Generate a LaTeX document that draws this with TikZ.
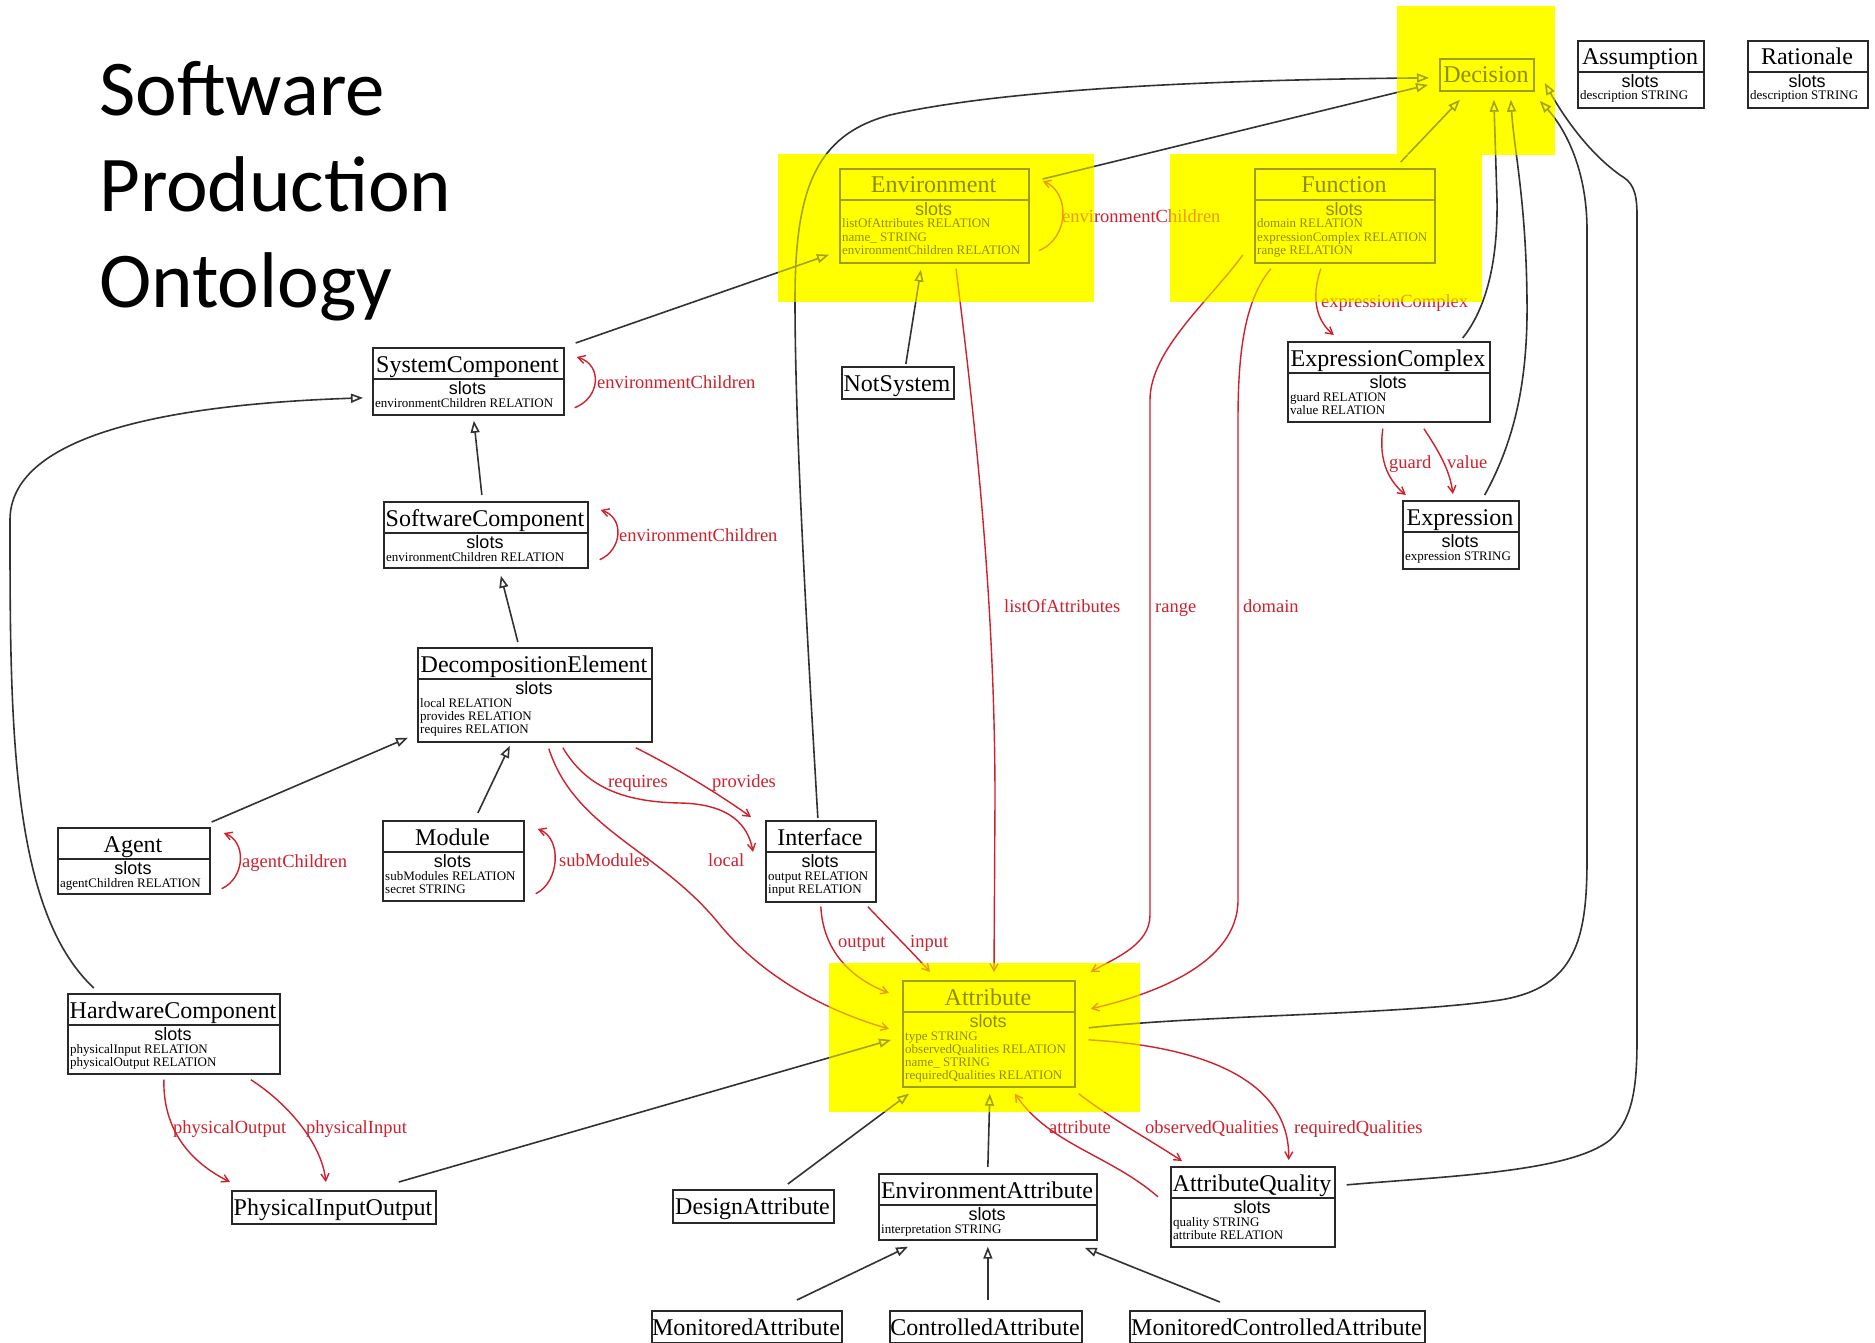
\documentclass[tikz,border=0pt]{standalone}
\usepackage{fontspec}
\setmainfont{Liberation Serif}
\newfontfamily\slotsfont{Liberation Sans}
\newfontfamily\ttlfont{Carlito}
\usetikzlibrary{arrows.meta,calc}
\definecolor{relc}{RGB}{208,32,44}
\definecolor{linec}{RGB}{50,50,50}
\definecolor{boxc}{RGB}{40,40,40}
\definecolor{hly}{RGB}{255,255,0}
\tikzset{
  clsbox/.style={draw=boxc, line width=1.7pt, inner sep=0pt},
  clssep/.style={draw=boxc, line width=1.7pt},
  clstitle/.style={inner sep=0pt, font=\fontsize{24}{26}\selectfont},
  clsslots/.style={inner sep=0pt, font=\slotsfont\fontsize{18}{20}\selectfont},
  clsattr/.style={inner sep=0pt, font=\fontsize{13}{14}\selectfont},
  inh/.style={draw=linec, line width=1.6pt, -{Triangle[open, length=12pt, width=9pt]}},
  rel/.style={draw=relc, line width=1.4pt, -{Straight Barb[length=7pt, width=8pt]}},
  rlab/.style={text=relc, font=\fontsize{18.5}{20}\selectfont, inner sep=0pt, anchor=base west},
  ttl/.style={inner sep=0pt, font=\ttlfont\fontsize{79}{90}\selectfont, anchor=base west},
  hlbase/.style={fill=hly},
  hltop/.style={fill=hly, fill opacity=0.55},
}
\newcommand\umlclass[7]{%
  \node[clsbox, minimum width={#4-#2}, minimum height={#5-#3}, anchor=north west] (#1) at (#2,#3) {};
  \node[clstitle, anchor=base] (#1-t) at ({(#2+#4)/2},{#3+25}) {#6};
  \draw[clssep] ($(#1.north west)+(0,32)$) -- ($(#1.north east)+(0,32)$);
  \node[clsslots, anchor=base] (#1-s) at ({(#2+#4)/2},{#3+32+15.5}) {slots};
  \foreach \cln [count=\ci] in {#7} {\node[clsattr, anchor=base west] (#1-l\ci) at ({#2+3},{#3+32+28+13.2*(\ci-1)}) {\cln};}
}
\newcommand\umlsingle[6]{%
  \node[clsbox, minimum width={#4-#2}, minimum height={#5-#3}, anchor=north west] (#1) at (#2,#3) {};
  \node[clstitle, anchor=base] (#1-t) at ({(#2+#4)/2},{#3+25}) {#6};
}
\begin{document}
\begin{tikzpicture}[x=1pt,y=-1pt]
\useasboundingbox (0,0) rectangle (1875,1343);
\fill[white] (0,0) rectangle (1875,1343);
% yellow highlight base
\fill[hlbase] (1397,6) rectangle (1555,155);
\fill[hlbase] (778,154) rectangle (1094,302);
\fill[hlbase] (1170,154) rectangle (1482,302);
\fill[hlbase] (829,963) rectangle (1140,1112);

% title
\node[ttl] (t1) at (99,116) {Software};
\node[ttl] (t2) at (99,212) {Production};
\node[ttl] (t3) at (99,307) {Ontology};

% classes
\umlsingle{dec}{1439}{58}{1533}{90}{Decision}
\umlclass{asm}{1577}{40}{1703}{107}{Assumption}{description STRING}
\umlclass{rat}{1747}{40}{1867}{107}{Rationale}{description STRING}
\umlclass{env}{839}{168}{1028}{262}{Environment}{listOfAttributes RELATION,name\_ STRING,environmentChildren RELATION}
\umlclass{fn}{1254}{168}{1434}{262}{Function}{domain RELATION,expressionComplex RELATION,range RELATION}
\umlclass{sc}{372}{347}{563}{414}{SystemComponent}{environmentChildren RELATION}
\umlsingle{ns}{841}{366}{953}{398}{NotSystem}
\umlclass{ec}{1287}{341}{1489}{421}{ExpressionComplex}{guard RELATION,value RELATION}
\umlclass{swc}{383}{501}{587}{567}{SoftwareComponent}{environmentChildren RELATION}
\umlclass{ex}{1402}{500}{1518}{568}{Expression}{expression STRING}
\umlclass{de}{417}{647}{651}{741}{DecompositionElement}{local RELATION,provides RELATION,requires RELATION}
\umlclass{agent}{57}{827}{209}{893}{Agent}{agentChildren RELATION}
\umlclass{mod}{382}{820}{523}{900}{Module}{subModules RELATION,secret STRING}
\umlclass{intf}{765}{820}{875}{901}{Interface}{output RELATION,input RELATION}
\umlclass{hw}{67}{993}{279}{1073}{HardwareComponent}{physicalInput RELATION,physicalOutput RELATION}
\umlclass{attr}{902}{980}{1074}{1086}{Attribute}{type STRING,observedQualities RELATION,name\_ STRING,requiredQualities RELATION}
\umlsingle{pio}{231}{1190}{435}{1223}{PhysicalInputOutput}
\umlsingle{da}{672}{1189}{833}{1222}{DesignAttribute}
\umlclass{ea}{878}{1173}{1096}{1239}{EnvironmentAttribute}{interpretation STRING}
\umlclass{aq}{1170}{1166}{1334}{1246}{AttributeQuality}{quality STRING,attribute RELATION}
\umlsingle{ma}{651}{1310}{841}{1342}{MonitoredAttribute}
\umlsingle{ca}{889}{1310}{1081}{1342}{ControlledAttribute}
\umlsingle{mca}{1129}{1310}{1424}{1342}{MonitoredControlledAttribute}

% inheritance connectors
\draw[inh] ($(swc.north)+(-4,-6)$) -- ($(sc.south)+(5.5,5)$);
\draw[inh] ($(de.north)+(-17,-5)$) -- ($(swc.south)+(15,7)$);
\draw[inh] ($(mod.north)+(24.5,-7)$) -- ($(de.south)+(-25,3)$);
\draw[inh] ($(agent.north east)+(1,-5)$) -- ($(de.south west)+(-9,-5)$);
\draw[inh] ($(hw.north)+(-80,-5)$) .. controls (10,910) and (10,720) .. (10,520) .. controls (10,440) and (150,405) .. ($(sc.west)+(-9,16.5)$);
\draw[inh] ($(sc.north east)+(11,-4)$) -- ($(env.south west)+(-10,-9)$);
\draw[inh] ($(ns.north)+(8,-2)$) -- ($(env.south)+(-13.5,6)$);
\draw[inh] ($(env.north east)+(13,11)$) -- ($(dec.west)+(-11,10)$);
\draw[inh] ($(intf.north)+(-3,-2)$) .. controls (805,600) and (795,420) .. (795,300) .. controls (795,190) and (815,135) .. (890,115) .. controls (1000,90) and (1200,80) .. ($(dec.west)+(-10,3)$);
\draw[inh] ($(fn.north east)+(-35,-6)$) -- ($(dec.south west)+(21,8)$);
\draw[inh] ($(ec.north east)+(-28,-3)$) .. controls (1485,310) and (1498,265) .. (1497,200) -- ($(dec.south)+(7,8)$);
\draw[inh] ($(ex.north east)+(-35,-5)$) .. controls (1515,440) and (1528,380) .. (1527,300) .. controls (1526,200) and (1514,150) .. ($(dec.south)+(24,8)$);
\draw[inh] ($(attr.east)+(13,-6)$) .. controls (1200,1015) and (1400,1015) .. (1500,1000) .. controls (1575,988) and (1587,940) .. (1587,860) -- (1587,230) .. controls (1587,165) and (1562,125) .. ($(dec.east)+(5,26)$);
\draw[inh] ($(aq.east)+(11,-22)$) .. controls (1450,1176) and (1570,1172) .. (1610,1140) .. controls (1632,1120) and (1637,1090) .. (1637,1040) -- (1637,215) .. controls (1637,190) and (1632,182) .. (1620,175) .. controls (1585,150) and (1560,110) .. ($(dec.east)+(10,8)$);
\draw[inh] ($(ea.north)+(0,-6)$) -- ($(attr.south)+(1,6)$);
\draw[inh] ($(da.north)+(34.5,-5)$) -- ($(attr.south west)+(7,6)$);
\draw[inh] ($(pio.north)+(65,-8)$) -- ($(attr.west)+(-11,6)$);
\draw[inh] ($(ma.north)+(50,-10)$) -- ($(ea.south west)+(30,6)$);
\draw[inh] ($(ca.north)+(2,-10)$) -- ($(ea.south)+(0,6)$);
\draw[inh] ($(mca.north)+(-57.5,-8)$) -- ($(ea.south east)+(-13,7)$);

% relation connectors
\draw[rel] ($(sc.south east)+(10,-8)$) .. controls (600,398) and (603,365) .. ($(sc.north east)+(12,10)$);
\node[rlab] (l-sc) at (597,388.5) {environmentChildren};
\draw[rel] ($(swc.south east)+(11,-9)$) .. controls (622,550) and (625,518) .. ($(swc.north east)+(12,9)$);
\node[rlab] (l-swc) at (619,541.5) {environmentChildren};
\draw[rel] ($(env.south east)+(9,-13)$) .. controls (1070,238) and (1070,192) .. ($(env.north east)+(13,13)$);
\node[rlab] (l-env) at (1062,222.5) {environmentChildren};
\draw[rel] ($(agent.south east)+(11,-6)$) .. controls (245,878) and (247,842) .. ($(agent.north east)+(13,6)$);
\node[rlab] (l-ag) at (242,867.5) {agentChildren};
\draw[rel] ($(mod.south east)+(11,-8)$) .. controls (560,882) and (562,838) .. ($(mod.north east)+(13,9)$);
\node[rlab] (l-mod) at (559,866.5) {subModules};

\draw[rel] ($(env.south west)+(117,5)$) .. controls (975,420) and (995,600) .. (995,800) -- ($(attr.north west)+(92,-8)$);
\node[rlab] (l-loa) at (1004,612.5) {listOfAttributes};
\draw[rel] ($(fn.south west)+(-11,-9)$) .. controls (1210,300) and (1150,350) .. (1150,400) -- (1150,915) .. controls (1150,945) and (1115,958) .. ($(attr.north east)+(15,-8)$);
\node[rlab] (l-rng) at (1155,612.5) {range};
\draw[rel] ($(fn.south)+(-74,5)$) .. controls (1245,300) and (1238,350) .. (1238,420) -- (1238,900) .. controls (1238,965) and (1150,995) .. ($(attr.east)+(15,-25)$);
\node[rlab] (l-dom) at (1243,612.5) {domain};
\draw[rel] ($(fn.south)+(-24,5)$) .. controls (1310,300) and (1318,322) .. ($(ec.north)+(-55,-6)$);
\node[rlab] (l-exc) at (1321,307.5) {expressionComplex};
\draw[rel] ($(ec.south)+(-6,6)$) .. controls (1378,462) and (1390,482) .. ($(ex.north)+(-55,-5)$);
\node[rlab] (l-grd) at (1389,468.5) {guard};
\draw[rel] ($(ec.south)+(35,6)$) .. controls (1438,450) and (1450,470) .. ($(ex.north)+(-8,-6)$);
\node[rlab] (l-val) at (1447,468.5) {value};

\draw[rel] ($(intf.south)+(0,4)$) .. controls (823,950) and (850,978) .. ($(attr.north west)+(-13,13)$);
\node[rlab] (l-out) at (838,947.5) {output};
\draw[rel] ($(intf.south)+(47,4)$) .. controls (890,930) and (915,955) .. ($(attr.north west)+(28,-8)$);
\node[rlab] (l-in) at (910,947.5) {input};

\draw[rel] ($(de.south east)+(-17,5)$) .. controls (680,770) and (720,795) .. ($(intf.north west)+(-14,-3)$);
\node[rlab] (l-prov) at (712,787.5) {provides};
\draw[rel] ($(de.south)+(28,5)$) .. controls (585,785) and (620,802) .. (680,803) .. controls (730,804) and (748,825) .. ($(intf.west)+(-12,-9.5)$);
\node[rlab] (l-req) at (608,787.5) {requires};
\draw[rel] ($(de.south)+(14,6)$) .. controls (575,830) and (660,850) .. (720,925) .. controls (770,985) and (840,1015) .. ($(attr.west)+(-13,-5)$);
\node[rlab] (l-loc) at (708,866.5) {local};

\draw[rel] ($(attr.south east)+(3,6)$) .. controls (1110,1118) and (1150,1140) .. ($(aq.north west)+(12,-5)$);
\node[rlab] (l-obs) at (1145,1133.5) {observedQualities};
\draw[rel] ($(attr.east)+(13,6)$) .. controls (1180,1045) and (1290,1070) .. ($(aq.north east)+(-47,-6)$);
\node[rlab] (l-rq) at (1294,1133.5) {requiredQualities};
\draw[rel] ($(aq.west)+(-12,-10)$) .. controls (1110,1155) and (1050,1145) .. ($(attr.south)+(26,6)$);
\node[rlab] (l-att) at (1049,1133.5) {attribute};

\draw[rel] ($(hw.south)+(-10,5)$) .. controls (163,1130) and (190,1162) .. ($(pio.north west)+(-1,-8)$);
\node[rlab] (l-po) at (173,1133.5) {physicalOutput};
\draw[rel] ($(hw.south)+(77,5)$) .. controls (290,1105) and (322,1145) .. ($(pio.north)+(-8,-8)$);
\node[rlab] (l-pi) at (306,1133.5) {physicalInput};

% yellow highlight overlay
\fill[hltop] (1397,6) rectangle (1555,155);
\fill[hltop] (778,154) rectangle (1094,302);
\fill[hltop] (1170,154) rectangle (1482,302);
\fill[hltop] (829,963) rectangle (1140,1112);
\end{tikzpicture}
\end{document}
